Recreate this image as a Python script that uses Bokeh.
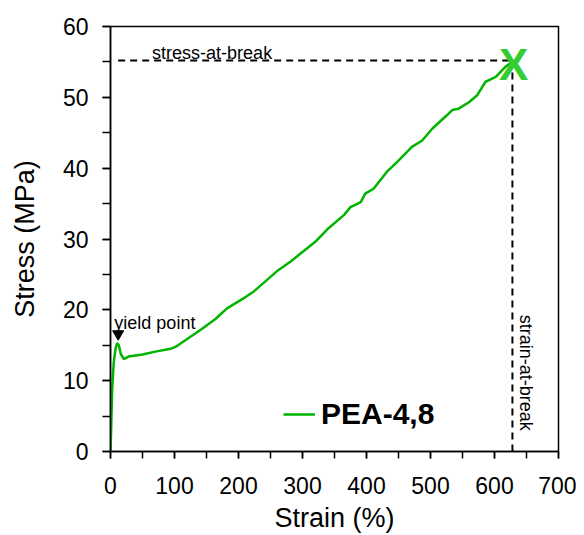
from bokeh.plotting import figure
from bokeh.models import Range1d, SingleIntervalTicker, Legend, LegendItem
from bokeh.core.properties import value
from bokeh.embed import file_html
from bokeh.resources import INLINE
import math

strain = [0, 1, 2.6, 5, 8, 10.4, 13, 16, 20.8, 28, 50, 70, 94, 102, 133, 141, 164, 182, 211,
          224, 262, 281, 320, 338, 365, 375, 391, 398, 411, 432, 448, 471, 487, 503, 526, 534,
          544, 560, 573, 586, 602, 617, 628]
stress = [0, 3, 8.7, 12.5, 14.6, 15.3, 15.0, 13.8, 13.05, 13.4, 13.7, 14.1, 14.5, 14.8, 16.7,
          17.2, 18.7, 20.2, 21.8, 22.6, 25.6, 26.8, 29.6, 31.3, 33.4, 34.5, 35.2, 36.4, 37.1,
          39.5, 40.9, 43.0, 43.9, 45.6, 47.5, 48.2, 48.4, 49.3, 50.3, 52.2, 52.9, 54.3, 55.0]
series_name = "PEA-4,8"

break_strain = 628
break_stress = 55.2
break_line_start = 12
yield_strain = 12
yield_stress = 16.6

x_ticks_interval = 100
y_ticks_interval = 10

FONT = "Liberation Sans"
GREEN = "#00b400"

p = figure(width=576, height=535, output_backend="svg", toolbar_location=None,
           x_range=Range1d(0, 700), y_range=Range1d(0, 60),
           min_border_left=110, min_border_right=18, min_border_top=26, min_border_bottom=83)
p.xgrid.visible = False
p.ygrid.visible = False
p.outline_line_color = "black"
p.outline_line_width = 1.5

p.xaxis.ticker = SingleIntervalTicker(interval=x_ticks_interval, num_minor_ticks=2)
p.yaxis.ticker = SingleIntervalTicker(interval=y_ticks_interval, num_minor_ticks=2)
for ax in (p.xaxis, p.yaxis):
    ax.axis_line_color = "black"
    ax.axis_line_width = 1.5
    ax.major_tick_line_color = "black"
    ax.minor_tick_line_color = "black"
    ax.major_tick_line_width = 1.5
    ax.minor_tick_line_width = 1.5
    ax.major_tick_in = 0
    ax.minor_tick_in = 0
    ax.major_label_text_font = FONT
    ax.major_label_text_font_size = "23px"
    ax.major_label_text_color = "black"
    ax.axis_label_text_font = FONT
    ax.axis_label_text_font_size = "27px"
    ax.axis_label_text_font_style = "normal"
    ax.axis_label_text_color = "black"
p.xaxis.major_tick_out = 7
p.xaxis.minor_tick_out = 7
p.yaxis.major_tick_out = 8
p.yaxis.minor_tick_out = 8
p.xaxis.major_label_standoff = 18
p.yaxis.major_label_standoff = 14
p.xaxis.axis_label_standoff = 6
p.yaxis.axis_label_standoff = 20
p.xaxis.axis_label = "Strain (%)"
p.yaxis.axis_label = "Stress (MPa)"

# dashed guide lines
p.segment(x0=[break_line_start, break_strain], y0=[break_stress, break_stress],
          x1=[break_strain, break_strain], y1=[break_stress, 0],
          line_color="black", line_width=2, line_dash="7 5")

r = p.line(strain, stress, line_color=GREEN, line_width=2.5)

# break marker
p.text(x=[strain[-1] + 2], y=[stress[-1] - 0.4], text=["X"], text_color="#33cc33",
       text_font=value(FONT), text_font_style="bold", text_font_size="44px",
       text_align="center", text_baseline="middle")

# yield point
p.scatter(x=[yield_strain], y=[yield_stress], marker="inverted_triangle", size=11,
          fill_color="black", line_color="black")
p.text(x=[6], y=[18.2], text=["yield point"], text_font=value(FONT), text_font_size="18px",
       text_color="black", text_align="left", text_baseline="alphabetic")
p.text(x=[65], y=[56.2], text=["stress-at-break"], text_font=value(FONT), text_font_size="18px",
       text_color="black", text_align="left", text_baseline="alphabetic")
p.text(x=[649], y=[19.3], text=["strain-at-break"], text_font=value(FONT), text_font_size="18px",
       text_color="black", text_align="left", text_baseline="middle", angle=-math.pi / 2)

legend = Legend(items=[LegendItem(label=series_name, renderers=[r])], location=(173, 20),
                border_line_alpha=0, background_fill_alpha=0, padding=0, margin=0,
                glyph_width=32, glyph_height=30, label_height=30, label_standoff=6, spacing=0,
                label_text_font=FONT, label_text_font_size="30px", label_text_font_style="bold",
                label_text_color="black")
p.add_layout(legend)

open("out.html", "w").write(file_html(p, INLINE))
